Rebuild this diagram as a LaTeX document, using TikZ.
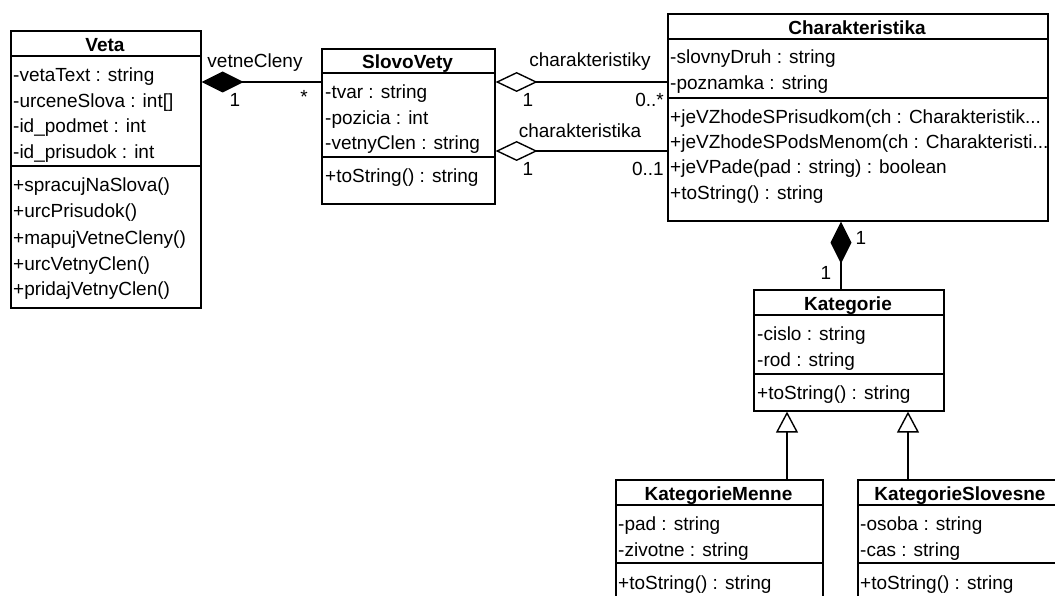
\documentclass[tikz,border=0pt]{standalone}
\usepackage{fontspec}
\setmainfont{Liberation Sans}
\usetikzlibrary{arrows.meta}
\tikzset{
  clsbox/.style={draw, line width=1.6pt, inner sep=0pt, anchor=north west},
  div/.style={line width=1.6pt},
  txt/.style={anchor=base west, inner sep=0pt, font=\fontsize{19}{23}\selectfont},
  hdr/.style={anchor=base, inner sep=0pt, font=\bfseries\fontsize{19}{23}\selectfont},
  lbl/.style={inner sep=0pt, font=\fontsize{19}{23}\selectfont},
  conn/.style={line width=1.4pt},
  comp/.style={conn, {Diamond[length=42pt,width=21pt,fill=black]}-},
  aggr/.style={conn, {Diamond[length=42pt,width=20pt,open,fill=white]}-},
  inh/.style={conn, -{Triangle[length=21pt,width=22pt,open,fill=white]}},
}
\begin{document}
\begin{tikzpicture}[x=1pt,y=-1pt]
\useasboundingbox (0,0) rectangle (1055,596);
\clip (0,0) rectangle (1055,596);
\fill[white] (0,0) rectangle (1055,596);

% ---------- Veta ----------
\node[clsbox, minimum width=190pt, minimum height=277pt] (veta) at (10,30) {};
\draw[div] (veta.west |- 0,56) -- (veta.east |- 0,56);
\draw[div] (veta.west |- 0,166) -- (veta.east |- 0,166);
\node[hdr] (vetaH) at (105,52) {Veta};
\node[txt] (veta1) at (13,82) {-vetaText : string};
\node[txt] (veta2) at (13,108) {-urceneSlova : int[]};
\node[txt] (veta3) at (13,133) {-id\_podmet : int};
\node[txt] (veta4) at (13,159) {-id\_prisudok : int};
\node[txt] (veta5) at (13,192) {+spracujNaSlova()};
\node[txt] (veta6) at (13,218) {+urcPrisudok()};
\node[txt] (veta7) at (13,244) {+mapujVetneCleny()};
\node[txt] (veta8) at (13,270) {+urcVetnyClen()};
\node[txt] (veta9) at (13,295) {+pridajVetnyClen()};

% ---------- SlovoVety ----------
\node[clsbox, minimum width=173pt, minimum height=155pt] (slovo) at (321,48) {};
\draw[div] (slovo.west |- 0,73) -- (slovo.east |- 0,73);
\draw[div] (slovo.west |- 0,157) -- (slovo.east |- 0,157);
\node[hdr] (slovoH) at (407.5,69) {SlovoVety};
\node[txt] (slovo1) at (325,99) {-tvar : string};
\node[txt] (slovo2) at (325,125) {-pozicia : int};
\node[txt] (slovo3) at (325,150) {-vetnyClen : string};
\node[txt] (slovo4) at (325,183) {+toString() : string};

% ---------- Charakteristika ----------
\node[clsbox, minimum width=380pt, minimum height=207pt] (char) at (667,13) {};
\draw[div] (char.west |- 0,39) -- (char.east |- 0,39);
\draw[div] (char.west |- 0,98) -- (char.east |- 0,98);
\node[hdr] (charH) at (857,35) {Charakteristika};
\node[txt] (char1) at (670,64) {-slovnyDruh : string};
\node[txt] (char2) at (670,90) {-poznamka : string};
\node[txt] (char3) at (670,124) {+jeVZhodeSPrisudkom(ch : Charakteristik...};
\node[txt] (char4) at (670,149) {+jeVZhodeSPodsMenom(ch : Charakteristi...};
\node[txt] (char5) at (670,174) {+jeVPade(pad : string) : boolean};
\node[txt] (char6) at (670,200) {+toString() : string};

% ---------- Kategorie ----------
\node[clsbox, minimum width=190pt, minimum height=121pt] (kat) at (753,289) {};
\draw[div] (kat.west |- 0,315) -- (kat.east |- 0,315);
\draw[div] (kat.west |- 0,374) -- (kat.east |- 0,374);
\node[hdr] (katH) at (848,310) {Kategorie};
\node[txt] (kat1) at (757,340) {-cislo : string};
\node[txt] (kat2) at (757,366) {-rod : string};
\node[txt] (kat3) at (757,399) {+toString() : string};

% ---------- KategorieMenne ----------
\node[clsbox, minimum width=207pt, minimum height=140pt] (km) at (615,479) {};
\draw[div] (km.west |- 0,505) -- (km.east |- 0,505);
\draw[div] (km.west |- 0,563) -- (km.east |- 0,563);
\node[hdr] (kmH) at (718.5,500) {KategorieMenne};
\node[txt] (km1) at (618,530) {-pad : string};
\node[txt] (km2) at (618,556) {-zivotne : string};
\node[txt] (km3) at (618,589) {+toString() : string};

% ---------- KategorieSlovesne ----------
\node[clsbox, minimum width=206pt, minimum height=140pt] (ks) at (857,479) {};
\draw[div] (ks.west |- 0,505) -- (ks.east |- 0,505);
\draw[div] (ks.west |- 0,563) -- (ks.east |- 0,563);
\node[hdr] (ksH) at (960,500) {KategorieSlovesne};
\node[txt] (ks1) at (860,530) {-osoba : string};
\node[txt] (ks2) at (860,556) {-cas : string};
\node[txt] (ks3) at (860,589) {+toString() : string};

% ---------- Connectors ----------
\draw[comp] (veta.east |- 0,82) -- (slovo.west |- 0,82);
\node[lbl] (l1) at (255,63) {vetneCleny};
\node[lbl] (l2) at (235,100) {1};
\node[lbl] (l3) at (304,97) {*};

\draw[aggr] (slovo.east |- 0,82) -- (char.west |- 0,82);
\node[lbl] (l4) at (590,62) {charakteristiky};
\node[lbl] (l5) at (528,100) {1};
\node[lbl, anchor=east] (l6) at (664,100) {0..*};

\draw[aggr] (slovo.east |- 0,151) -- (char.west |- 0,151);
\node[lbl] (l7) at (580,131) {charakteristika};
\node[lbl] (l8) at (528,169) {1};
\node[lbl, anchor=east] (l9) at (664,169) {0..1};

\draw[comp] (char.south -| 841,0) -- (kat.north -| 841,0);
\node[lbl] (l10) at (861,238) {1};
\node[lbl] (l11) at (826,273) {1};

\draw[inh] (km.north -| 787,0) -- (kat.south -| 787,0);
\draw[inh] (ks.north -| 908,0) -- (kat.south -| 908,0);
\end{tikzpicture}
\end{document}
